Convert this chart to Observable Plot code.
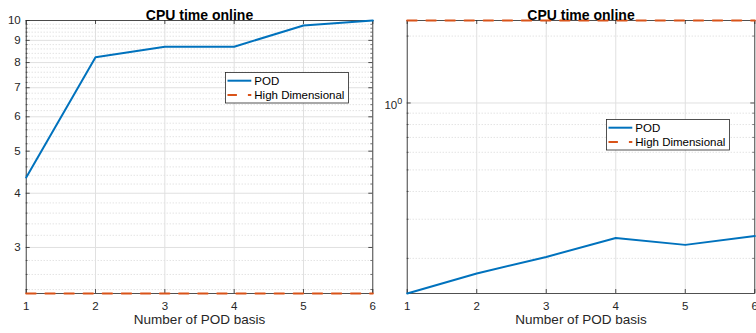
<!DOCTYPE html>
<html><head><meta charset="utf-8">
<script src="https://cdn.jsdelivr.net/npm/d3@7"></script>
<script src="https://cdn.jsdelivr.net/npm/@observablehq/plot@0.6"></script>
<style>
html,body{margin:0;padding:0;background:#fff;overflow:hidden;width:756px;height:333px;}
#wrap{position:relative;width:756px;height:333px;font-family:"Liberation Sans",Arial,sans-serif;}
.panel{position:absolute;top:0;width:378px;height:333px;}
.legend{position:absolute;}
</style>
</head><body>
<div id="wrap">
  <div class="panel" id="p1" style="left:0"></div>
  <div class="panel" id="p2" style="left:378px"></div>
  <svg class="legend" id="lg1" style="left:225px;top:72px" width="125" height="32"></svg>
  <svg class="legend" id="lg2" style="left:605.5px;top:118.5px" width="125" height="32"></svg>
</div>
<script>
// ---- data ----
const basis = [1, 2, 3, 4, 5, 6];
const podLeft = [4.35, 8.23, 8.70, 8.70, 9.74, 10.0];
const hdLeft = [2.35, 2.35, 2.35, 2.35, 2.35, 2.35];
const podRight = [0.139, 0.171, 0.203, 0.247, 0.230, 0.252];
const hdRight = [2.35, 2.35, 2.35, 2.35, 2.35, 2.35];
const title = "CPU time online";
const xLabel = "Number of POD basis";
const seriesNames = ["POD", "High Dimensional"];
const xTicks = [1, 2, 3, 4, 5, 6];
const leftMajorY = [3, 4, 5, 6, 7, 8, 9, 10];
const leftMinorY = [2.4, 2.6, 2.8, 3.2, 3.4, 3.6, 3.8, 4.2, 4.4, 4.6, 4.8, 5.2, 5.4, 5.6, 5.8,
  6.2, 6.4, 6.6, 6.8, 7.2, 7.4, 7.6, 7.8, 8.2, 8.4, 8.6, 8.8, 9.2, 9.4, 9.6, 9.8];
const rightMajorY = [1];
const rightMinorY = [0.2, 0.3, 0.4, 0.5, 0.6, 0.7, 0.8, 0.9, 2];

const BLUE = "#0072BD", ORANGE = "#D95319", AX = "#262626";
const FONT = "Liberation Sans, Arial, sans-serif";

function panel({pod, hd, majorY, minorY, yFormat, marginLeft, marginRight, yPad}) {
  const W = 378, H = 333, mt = 20, mb = 40;
  const fw = W - marginLeft - marginRight, fh = H - mt - mb;
  const podData = basis.map((x, i) => ({x, y: pod[i]}));
  const hdData = basis.map((x, i) => ({x, y: hd[i]}));
  const yDomain = d3.extent([...pod, ...hd]);
  return Plot.plot({
    width: W, height: H,
    marginLeft, marginRight, marginTop: mt, marginBottom: mb,
    style: {fontFamily: FONT, fontSize: "11.5px", color: AX, background: "transparent"},
    x: {domain: d3.extent(basis), ticks: xTicks, label: null},
    y: {type: "log", domain: yDomain, label: null},
    marks: [
      // grid
      Plot.ruleY(minorY, {stroke: "#cdcdcd", strokeDasharray: "1,2", strokeWidth: 0.8}),
      Plot.ruleX(xTicks, {stroke: "#e0e0e0", strokeWidth: 1}),
      Plot.ruleY(majorY, {stroke: "#e0e0e0", strokeWidth: 1}),
      // inside ticks
      Plot.ruleY(majorY, {stroke: AX, strokeWidth: 0.8, insetRight: fw - 4}),
      Plot.ruleY(majorY, {stroke: AX, strokeWidth: 0.8, insetLeft: fw - 4}),
      Plot.ruleY(minorY, {stroke: AX, strokeWidth: 0.6, insetRight: fw - 2}),
      Plot.ruleY(minorY, {stroke: AX, strokeWidth: 0.6, insetLeft: fw - 2}),
      Plot.ruleX(xTicks, {stroke: AX, strokeWidth: 0.8, insetTop: fh - 4}),
      Plot.ruleX(xTicks, {stroke: AX, strokeWidth: 0.8, insetBottom: fh - 4}),
      Plot.frame({stroke: AX, strokeWidth: 0.8}),
      Plot.axisX({ticks: xTicks, tickSize: 0, tickPadding: 8, tickFormat: d => String(d), label: null}),
      Plot.axisY({ticks: majorY, tickSize: 0, tickPadding: yPad, tickFormat: yFormat, label: null}),
      // data
      Plot.line(podData, {x: "x", y: "y", stroke: BLUE, strokeWidth: 2}),
      Plot.line(hdData, {x: "x", y: "y", stroke: ORANGE, strokeWidth: 2, strokeDasharray: "9.5,9.6"}),
      // title & label
      Plot.text([title], {text: d => d, frameAnchor: "top", dy: -10, fontWeight: "bold", fontSize: 14, fill: "#000"}),
      Plot.text([xLabel], {text: d => d, frameAnchor: "bottom", dy: 30, fontSize: 13.5, fill: AX})
    ]
  });
}

const p1 = panel({pod: podLeft, hd: hdLeft, majorY: leftMajorY, minorY: leftMinorY,
  yFormat: d => String(d), marginLeft: 25.7, marginRight: 5.7, yPad: 5.5});
const p2 = panel({pod: podRight, hd: hdRight, majorY: rightMajorY, minorY: rightMinorY,
  yFormat: d => "10^0", marginLeft: 28.7, marginRight: 1.7, yPad: 5});
document.getElementById("p1").appendChild(p1);
document.getElementById("p2").appendChild(p2);

// superscript exponent
p2.querySelectorAll("text").forEach(t => {
  if (t.textContent === "10^0") {
    t.textContent = "";
    const ns = "http://www.w3.org/2000/svg";
    const a = document.createElementNS(ns, "tspan"); a.setAttribute("dy", "2"); a.textContent = "10";
    const b = document.createElementNS(ns, "tspan"); b.setAttribute("dy", "-5"); b.setAttribute("font-size", "9"); b.textContent = "0";
    t.appendChild(a); t.appendChild(b);
  }
});

// legends
function legend(id) {
  const svg = d3.select("#" + id);
  svg.append("rect").attr("x", 0.5).attr("y", 0.5).attr("width", 123).attr("height", 30.5)
    .attr("fill", "#fff").attr("stroke", AX).attr("stroke-width", 0.8);
  const rows = [{name: seriesNames[0], color: BLUE, dash: null, y: 8.7},
                {name: seriesNames[1], color: ORANGE, dash: "9.4,11", y: 23}];
  rows.forEach(r => {
    svg.append("line").attr("x1", 2.5).attr("x2", 26.3).attr("y1", r.y).attr("y2", r.y)
      .attr("stroke", r.color).attr("stroke-width", 2).attr("stroke-dasharray", r.dash);
    svg.append("text").attr("x", 29.3).attr("y", r.y + 4).attr("font-size", 11.5)
      .attr("font-family", FONT).attr("fill", "#000").text(r.name);
  });
}
legend("lg1"); legend("lg2");
</script>
</body></html>
